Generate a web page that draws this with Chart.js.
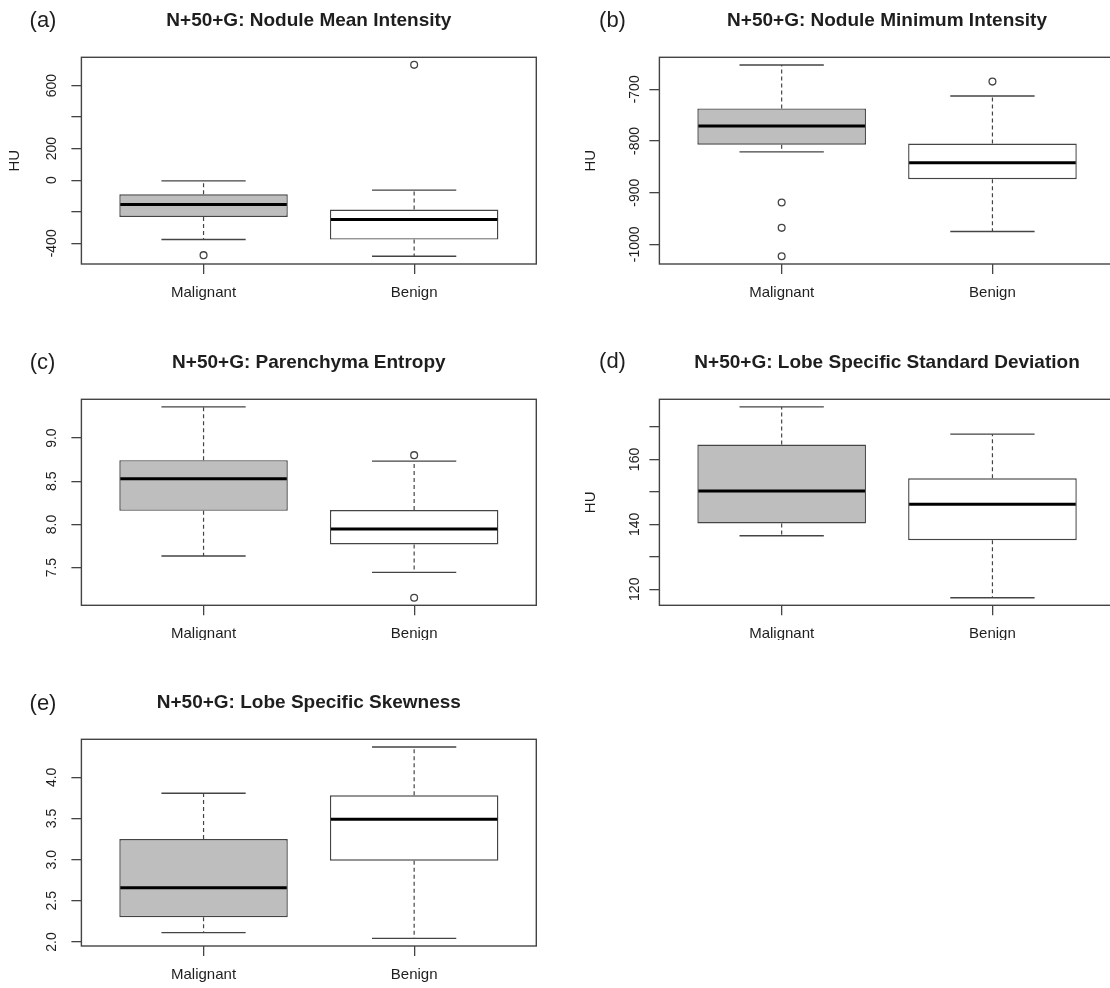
<!DOCTYPE html>
<html>
<head>
<meta charset="utf-8">
<script src="https://cdn.jsdelivr.net/npm/chart.js@4.4.1/dist/chart.umd.min.js"></script>
<style>
  html, body { margin: 0; padding: 0; background: #fff; overflow: hidden; }
  body { width: 1110px; height: 988px; position: relative; }
  .panel { position: absolute; }
  canvas { display: block; }
</style>
</head>
<body>
<div class="panel" style="left:0;top:0"><canvas id="chartA" width="555" height="310"></canvas></div>
<div class="panel" style="left:555px;top:0"><canvas id="chartB" width="580" height="310"></canvas></div>
<div class="panel" style="left:0;top:310px"><canvas id="chartC" width="555" height="330"></canvas></div>
<div class="panel" style="left:555px;top:310px"><canvas id="chartD" width="580" height="330"></canvas></div>
<div class="panel" style="left:0;top:640px"><canvas id="chartE" width="555" height="348"></canvas></div>
<script>
const categories = ['Malignant', 'Benign'];

// each box: [lower whisker, Q1, median, Q3, upper whisker]
const meanIntensity = [[-376, -233, -154, -89, -4], [-482, -376, -249, -186, -63]];
const meanOutliers = [[-475], [731]];
const meanTicks = [-400, -200, 0, 200, 400, 600];
const meanTickLabels = ['-400', '', '0', '200', '', '600'];

const minIntensity = [[-821, -807, -771, -737, -653], [-975, -874, -842, -805, -713]];
const minOutliers = [[-919, -968, -1023], [-685]];
const minTicks = [-1000, -900, -800, -700];
const minTickLabels = ['-1000', '-900', '-800', '-700'];

const entropy = [[7.634, 8.158, 8.53, 8.745, 9.362], [7.444, 7.768, 7.946, 8.167, 8.734]];
const entropyOutliers = [[], [8.803, 7.151]];
const entropyTicks = [7.5, 8.0, 8.5, 9.0];
const entropyTickLabels = ['7.5', '8.0', '8.5', '9.0'];

const stdDev = [[136.5, 140.3, 150.3, 164.6, 176.2], [117.4, 135.1, 146.2, 154.2, 167.8]];
const stdDevOutliers = [[], []];
const stdDevTicks = [120, 130, 140, 150, 160, 170];
const stdDevTickLabels = ['120', '', '140', '', '160', ''];

const skewness = [[2.113, 2.30, 2.66, 3.25, 3.806], [2.044, 2.988, 3.49, 3.781, 4.369]];
const skewOutliers = [[], []];
const skewTicks = [2.0, 2.5, 3.0, 3.5, 4.0];
const skewTickLabels = ['2.0', '2.5', '3.0', '3.5', '4.0'];

const boxFills = ['#bebebe', '#ffffff'];
const LINE = '#444444';
const TEXT = '#1e1e1e';
const FONT = '"Liberation Sans", Arial, sans-serif';

function boxDecor(p) {
  return {
    id: 'boxDecor',
    afterDatasetsDraw(chart) {
      const ctx = chart.ctx, x = chart.scales.x, y = chart.scales.y, a = chart.chartArea;
      ctx.save();
      ctx.beginPath();
      ctx.rect(a.left, a.top, a.right - a.left, a.bottom - a.top);
      ctx.clip();
      p.stats.forEach((s, i) => {
        const xc = x.getPixelForValue(i + 1);
        const hw = x.getPixelForValue(i + 1.4) - xc;
        const sw = hw / 2;
        // dashed whiskers
        ctx.strokeStyle = LINE;
        ctx.lineWidth = 1.2;
        ctx.setLineDash([4, 3]);
        ctx.beginPath();
        ctx.moveTo(xc, y.getPixelForValue(s[3]));
        ctx.lineTo(xc, y.getPixelForValue(s[4]));
        ctx.moveTo(xc, y.getPixelForValue(s[1]));
        ctx.lineTo(xc, y.getPixelForValue(s[0]));
        ctx.stroke();
        ctx.setLineDash([]);
        // staples
        ctx.lineWidth = 1.4;
        ctx.beginPath();
        [s[0], s[4]].forEach(v => {
          const py = y.getPixelForValue(v);
          ctx.moveTo(xc - sw, py);
          ctx.lineTo(xc + sw, py);
        });
        ctx.stroke();
        // median
        ctx.strokeStyle = '#000';
        ctx.lineWidth = 3;
        ctx.beginPath();
        const pm = y.getPixelForValue(s[2]);
        ctx.moveTo(xc - hw + 1, pm);
        ctx.lineTo(xc + hw - 1, pm);
        ctx.stroke();
      });
      ctx.restore();
      ctx.save();
      ctx.strokeStyle = LINE;
      ctx.lineWidth = 1.4;
      ctx.strokeRect(a.left, a.top, a.right - a.left, a.bottom - a.top);
      ctx.restore();
    },
    afterDraw(chart) {
      const ctx = chart.ctx, y = chart.scales.y, a = chart.chartArea;
      ctx.save();
      ctx.fillStyle = TEXT;
      // y tick labels, rotated like the R axis
      ctx.font = '14px ' + FONT;
      ctx.textAlign = 'center';
      ctx.textBaseline = 'middle';
      p.ticks.forEach((v, i) => {
        if (!p.tickLabels[i]) return;
        ctx.save();
        ctx.translate(p.tickX, y.getPixelForValue(v));
        ctx.rotate(-Math.PI / 2);
        ctx.fillText(p.tickLabels[i], 0, 0);
        ctx.restore();
      });
      if (p.yLabel) {
        ctx.save();
        ctx.font = '15px ' + FONT;
        ctx.translate(p.yLabelX, (a.top + a.bottom) / 2);
        ctx.rotate(-Math.PI / 2);
        ctx.fillText(p.yLabel, 0, 0);
        ctx.restore();
      }
      // panel title and letter
      ctx.textBaseline = 'alphabetic';
      ctx.font = 'bold 19px ' + FONT;
      ctx.fillText(p.title, (a.left + a.right) / 2, p.titleY);
      ctx.font = '22px ' + FONT;
      ctx.textBaseline = 'middle';
      ctx.fillText(p.letter, p.letterPos[0], p.letterPos[1]);
      ctx.restore();
    }
  };
}

function boxChart(id, p) {
  const canvas = document.getElementById(id);
  const W = canvas.width, H = canvas.height;
  return new Chart(canvas, {
    type: 'bar',
    data: {
      datasets: [{
        label: 'box',
        data: p.stats.map((s, i) => ({ x: i + 1, y: [s[1], s[3]] })),
        backgroundColor: boxFills,
        borderColor: LINE,
        borderWidth: 1.4,
        borderSkipped: false,
        categoryPercentage: 1,
        barPercentage: 0.8,
        order: 2
      }, {
        type: 'scatter',
        label: 'outliers',
        data: p.outliers.flatMap((o, i) => o.map(v => ({ x: i + 1, y: v }))),
        pointStyle: 'circle',
        pointRadius: 3.4,
        borderWidth: 1.3,
        borderColor: LINE,
        backgroundColor: 'rgba(0,0,0,0)',
        order: 1
      }]
    },
    options: {
      responsive: false,
      animation: false,
      devicePixelRatio: 1,
      layout: { padding: { left: 0, top: p.area[2], right: W - p.area[1], bottom: 0 } },
      plugins: { legend: { display: false }, tooltip: { enabled: false } },
      scales: {
        x: {
          type: 'linear', min: 0.42, max: 2.58, offset: false,
          grid: { offset: false, drawOnChartArea: false, tickLength: 10, color: LINE, lineWidth: 1.3 },
          border: { display: false },
          afterBuildTicks: s => { s.ticks = categories.map((c, i) => ({ value: i + 1 })); },
          afterFit: s => { s.height = H - p.area[3]; },
          ticks: {
            callback: v => categories[Math.round(v) - 1],
            padding: 10, color: TEXT, maxRotation: 0, autoSkip: false,
            font: { family: FONT, size: 15 }
          }
        },
        y: {
          type: 'linear', min: p.range[0], max: p.range[1],
          grid: { drawOnChartArea: false, tickLength: 10, color: LINE, lineWidth: 1.3 },
          border: { display: false },
          afterBuildTicks: s => { s.ticks = p.ticks.map(v => ({ value: v })); },
          afterFit: s => { s.width = p.area[0]; },
          ticks: { display: false }
        }
      }
    },
    plugins: [boxDecor(p)]
  });
}

boxChart('chartA', {
  stats: meanIntensity, outliers: meanOutliers, ticks: meanTicks, tickLabels: meanTickLabels,
  range: [-531, 779], area: [81.4, 536.3, 57.3, 264], tickX: 52,
  title: 'N+50+G: Nodule Mean Intensity', titleY: 26, letter: '(a)', letterPos: [43, 21],
  yLabel: 'HU', yLabelX: 15
});
boxChart('chartB', {
  stats: minIntensity, outliers: minOutliers, ticks: minTicks, tickLabels: minTickLabels,
  range: [-1038, -638], area: [104.4, 559.7, 57.3, 264], tickX: 80,
  title: 'N+50+G: Nodule Minimum Intensity', titleY: 26, letter: '(b)', letterPos: [57.5, 21],
  yLabel: 'HU', yLabelX: 36
});
boxChart('chartC', {
  stats: entropy, outliers: entropyOutliers, ticks: entropyTicks, tickLabels: entropyTickLabels,
  range: [7.063, 9.45], area: [81.4, 536.3, 89.3, 295.3], tickX: 52,
  title: 'N+50+G: Parenchyma Entropy', titleY: 57.7, letter: '(c)', letterPos: [42.5, 52.5]
});
boxChart('chartD', {
  stats: stdDev, outliers: stdDevOutliers, ticks: stdDevTicks, tickLabels: stdDevTickLabels,
  range: [115.05, 178.55], area: [104.4, 559.7, 89.3, 295.3], tickX: 80,
  title: 'N+50+G: Lobe Specific Standard Deviation', titleY: 57.7, letter: '(d)', letterPos: [57.5, 52],
  yLabel: 'HU', yLabelX: 36
});
boxChart('chartE', {
  stats: skewness, outliers: skewOutliers, ticks: skewTicks, tickLabels: skewTickLabels,
  range: [1.951, 4.462], area: [81.4, 536.3, 99.3, 306], tickX: 52,
  title: 'N+50+G: Lobe Specific Skewness', titleY: 68.3, letter: '(e)', letterPos: [43, 64]
});
</script>
</body>
</html>
